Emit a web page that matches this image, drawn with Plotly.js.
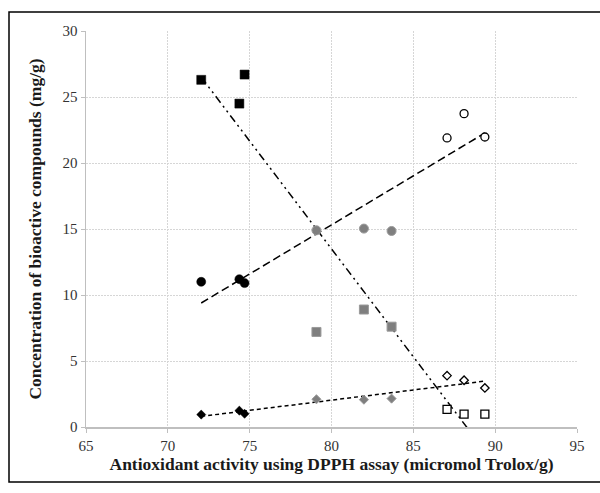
<!DOCTYPE html>
<html>
<head>
<meta charset="utf-8">
<script src="https://cdn.plot.ly/plotly-3.0.1.min.js"></script>
<style>
  html, body { margin: 0; padding: 0; background: #fff; }
  #chart { width: 600px; height: 493px; }
</style>
</head>
<body>
<div id="chart"></div>
<script>
// x values (DPPH antioxidant activity) for each sample group
const xBlack = [72.04, 74.37, 74.69];
const xGrey  = [79.08, 81.98, 83.67];
const xOpen  = [87.06, 88.10, 89.37];

// compound A (squares)
const sqBlack = [26.3, 24.5, 26.7];
const sqGrey  = [7.2, 8.9, 7.6];
const sqOpen  = [1.34, 0.98, 0.98];

// compound B (circles)
const ciBlack = [11.0, 11.2, 10.9];
const ciGrey  = [14.9, 15.03, 14.85];
const ciOpen  = [21.9, 23.74, 21.97];

// compound C (diamonds)
const diBlack = [0.94, 1.24, 1.0];
const diGrey  = [2.1, 2.07, 2.15];
const diOpen  = [3.89, 3.54, 2.96];

const xTicks = [65, 70, 75, 80, 85, 90, 95];
const yTicks = [0, 5, 10, 15, 20, 25, 30];

const allX = xBlack.concat(xGrey, xOpen);

function fit(ys) {
  const n = allX.length;
  const mx = allX.reduce((a, b) => a + b, 0) / n;
  const my = ys.reduce((a, b) => a + b, 0) / n;
  let sxy = 0, sxx = 0;
  for (let i = 0; i < n; i++) { sxy += (allX[i] - mx) * (ys[i] - my); sxx += (allX[i] - mx) ** 2; }
  const b = sxy / sxx, a = my - b * mx;
  const x0 = Math.min(...allX), x1 = Math.max(...allX);
  return { x: [x0, x1], y: [a + b * x0, a + b * x1] };
}

const GREY = '#7f7f7f';
function pts(x, y, symbol, kind, size) {
  let marker;
  if (kind === 'black') marker = { symbol, size, color: '#000', line: { color: '#000', width: 0.5 } };
  else if (kind === 'grey') marker = { symbol, size, color: GREY, line: { color: '#9a9a9a', width: 1 } };
  else marker = { symbol, size, color: '#fff', line: { color: '#000', width: 1.3 } };
  return { x, y, type: 'scatter', mode: 'markers', marker, showlegend: false, cliponaxis: false };
}
function trend(ys, dash) {
  const f = fit(ys);
  return { x: f.x, y: f.y, type: 'scatter', mode: 'lines', line: { color: '#000', width: 1.5, dash }, showlegend: false };
}

const data = [
  trend(sqBlack.concat(sqGrey, sqOpen), '8px,4px,2px,4px,2px,4px'),
  trend(ciBlack.concat(ciGrey, ciOpen), '8px,4px'),
  trend(diBlack.concat(diGrey, diOpen), '4px,3px'),
  pts(xBlack, sqBlack, 'square', 'black', 9),
  pts(xGrey, sqGrey, 'square', 'grey', 9),
  pts(xOpen, sqOpen, 'square', 'open', 8),
  pts(xBlack, ciBlack, 'circle', 'black', 9),
  pts(xGrey, ciGrey, 'circle', 'grey', 9),
  pts(xOpen, ciOpen, 'circle', 'open', 8),
  pts(xBlack, diBlack, 'diamond', 'black', 7),
  pts(xGrey, diGrey, 'diamond', 'grey', 7),
  pts(xOpen, diOpen, 'diamond', 'open', 6.5)
];

const tickFont = { family: "'Liberation Serif', 'Times New Roman', serif", size: 15, color: '#333' };
const titleFont = { family: "'Liberation Serif', 'Times New Roman', serif", size: 17.5, color: '#1a1a1a', weight: 'bold' };

const layout = {
  width: 600, height: 493,
  margin: { l: 86, r: 23, t: 31, b: 66 },
  paper_bgcolor: '#fff', plot_bgcolor: '#fff',
  xaxis: {
    range: [65, 95], tickvals: xTicks, ticktext: xTicks.map(String),
    showgrid: true, gridcolor: '#d6d6d6', griddash: '2px,1px', gridwidth: 1,
    showline: true, linecolor: '#bfbfbf', linewidth: 1.5,
    ticks: 'outside', ticklen: 4, tickcolor: '#bfbfbf', zeroline: false,
    tickfont: tickFont,
    title: { text: '<b>Antioxidant activity using DPPH assay (micromol Trolox/g)</b>', font: titleFont, standoff: 4 }
  },
  yaxis: {
    range: [0, 30], tickvals: yTicks, ticktext: yTicks.map(String),
    showgrid: true, gridcolor: '#d6d6d6', griddash: '2px,1px', gridwidth: 1,
    showline: true, linecolor: '#bfbfbf', linewidth: 1.5,
    ticks: 'outside', ticklen: 4, tickcolor: '#bfbfbf', zeroline: false,
    tickfont: tickFont,
    title: { text: '<b>Concentration of bioactive compounds (mg/g)</b>', font: titleFont, standoff: 16 }
  },
  shapes: [
    { type: 'rect', xref: 'paper', yref: 'paper',
      x0: (9 - 86) / 491, x1: (605 - 86) / 491,
      y0: (427 - 482) / 396, y1: (427 - 12) / 396,
      line: { color: '#000', width: 1.5 }, fillcolor: 'rgba(0,0,0,0)', layer: 'below' }
  ]
};

Plotly.newPlot('chart', data, layout, { displayModeBar: false, staticPlot: true });
</script>
</body>
</html>
